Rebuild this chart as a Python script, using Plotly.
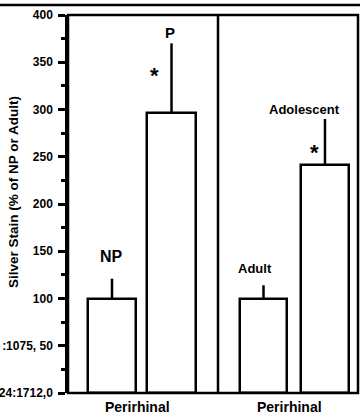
import plotly.graph_objects as go

# ---- data ----
groups_left = ["NP", "P"]
values_left = [100, 296]
err_left = [21, 74]

groups_right = ["Adult", "Adolescent"]
values_right = [100, 241]
err_right = [14, 49]

region_label = "Perirhinal"
y_title = "Silver Stain (% of NP or Adult)"
y_tickvals = [0, 50, 100, 150, 200, 250, 300, 350, 400]
y_ticktext = ["24:1712,0", ":1075, 50", "100", "150", "200", "250", "300", "350", "400"]
y_minor_tickvals = [25, 75, 125, 175, 225, 275, 325, 375]

FONT = "Liberation Sans, Arial, sans-serif"
LW = 2.5

fig = go.Figure()

fig.add_trace(go.Bar(
    x=groups_left, y=values_left, xaxis="x", yaxis="y",
    width=0.807,
    marker=dict(color="white", line=dict(color="black", width=LW)),
    error_y=dict(type="data", array=err_left, arrayminus=[0] * len(err_left),
                 symmetric=False, color="black", thickness=LW, width=0),
    showlegend=False,
))
fig.add_trace(go.Bar(
    x=groups_right, y=values_right, xaxis="x2", yaxis="y",
    width=0.78,
    marker=dict(color="white", line=dict(color="black", width=LW)),
    error_y=dict(type="data", array=err_right, arrayminus=[0] * len(err_right),
                 symmetric=False, color="black", thickness=LW, width=0),
    showlegend=False,
))

split = 150 / 290

def bold(size):
    return dict(family=FONT, size=size, color="black", weight="bold")

annotations = [
    dict(x=0, y=144, xref="x", yref="y", text="NP", showarrow=False,
         font=bold(16), xanchor="center", yanchor="middle"),
    dict(x=1, y=381, xref="x", yref="y", text="P", showarrow=False,
         font=bold(15), xanchor="center", yanchor="middle", xshift=-2),
    dict(x=1, y=336, xref="x", yref="y", text="*", showarrow=False,
         font=bold(22), xanchor="center", yanchor="middle", xshift=-17),
    dict(x=0, y=132, xref="x2", yref="y", text="Adult", showarrow=False,
         font=bold(13), xanchor="center", yanchor="middle", xshift=-8.5),
    dict(x=1, y=300, xref="x2", yref="y", text="Adolescent", showarrow=False,
         font=bold(13), xanchor="center", yanchor="middle", xshift=-20),
    dict(x=1, y=255, xref="x2", yref="y", text="*", showarrow=False,
         font=bold(22), xanchor="center", yanchor="middle", xshift=-10.5),
    dict(x=0.5, y=-14 / 378, xref="x", yref="paper", text=region_label, showarrow=False,
         font=bold(14), xanchor="center", yanchor="middle", xshift=-4),
    dict(x=0.5, y=-14 / 378, xref="x2", yref="paper", text=region_label, showarrow=False,
         font=bold(14), xanchor="center", yanchor="middle", xshift=-5),
    dict(x=-54.5 / 290, y=(393 - 192.5) / 378, xref="paper", yref="paper", text=y_title,
         showarrow=False, textangle=-90, font=bold(13.5),
         xanchor="center", yanchor="middle"),
]

shapes = [
    dict(type="rect", xref="paper", yref="paper", x0=0, x1=1, y0=0, y1=1,
         line=dict(color="black", width=LW), fillcolor="rgba(0,0,0,0)", layer="above"),
    dict(type="line", xref="paper", yref="paper", x0=split, x1=split, y0=0, y1=1,
         line=dict(color="black", width=LW), layer="above"),
    dict(type="line", xref="paper", yref="paper", x0=-68 / 290, x1=292 / 290,
         y0=1 + 10 / 378, y1=1 + 10 / 378, line=dict(color="black", width=2.5)),
]

fig.update_layout(
    width=360, height=415,
    margin=dict(l=68, r=2, t=15, b=22, autoexpand=False),
    paper_bgcolor="white", plot_bgcolor="white",
    font=dict(family=FONT, color="black"),
    xaxis=dict(domain=[0, split], range=[-0.739, 1.781], showticklabels=False,
               showgrid=False, zeroline=False, showline=False, ticks="", anchor="y",
               automargin=False),
    xaxis2=dict(domain=[split, 1], range=[-0.740, 1.537], showticklabels=False,
                showgrid=False, zeroline=False, showline=False, ticks="", anchor="y",
                automargin=False),
    yaxis=dict(range=[0, 400], tickmode="array", tickvals=y_tickvals, ticktext=y_ticktext,
               ticks="outside", ticklen=7, tickwidth=LW, tickcolor="black",
               tickfont=bold(12), showgrid=False, zeroline=False,
               showline=True, linewidth=LW, linecolor="black",
               automargin=False, ticklabelstandoff=3,
               minor=dict(tickmode="array", tickvals=y_minor_tickvals,
                          ticks="outside", ticklen=4, tickwidth=LW, tickcolor="black",
                          showgrid=False)),
    annotations=annotations,
    shapes=shapes,
    bargap=0,
)

fig.write_html("out.html")
